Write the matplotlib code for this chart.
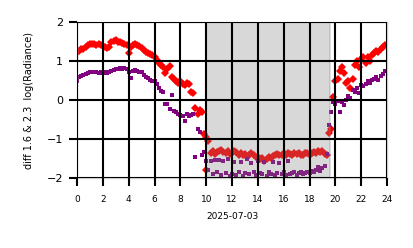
import numpy as np
import matplotlib
matplotlib.use("Agg")
import matplotlib.pyplot as plt

# hours (10-minute steps)
hours = np.arange(144) / 6.0

red_vals = [
    1.22, 1.27, 1.30, 1.32, 1.36, 1.40,
    1.43, 1.45, 1.44, 1.42, 1.44, 1.40,
    1.38, 1.35, 1.33, 1.36, 1.48, 1.52,
    1.53, 1.50, 1.49, 1.47, 1.45, 1.40,
    1.20, 1.35, 1.42, 1.45, 1.40, 1.38,
    1.33, 1.28, 1.24, 1.20, 1.18, 1.15,
    1.10, 1.02, 0.95, 0.90, 0.85, 0.70,
    0.80, 0.88, 0.60, 0.55, 0.48, 0.45,
    0.50, 0.42, 0.38, 0.45, 0.40, 0.20,
    0.18, -0.20, -0.35, -0.25, -0.30, -0.88,
    -0.95, -1.05, -1.35, -1.30, -1.38, -1.32,
    -1.30, -1.28, -1.33, -1.35, -1.30, -1.38,
    -1.36, -1.30, -1.32, -1.40, -1.35, -1.42,
    -1.38, -1.45, -1.40, -1.36, -1.42, -1.47,
    -1.45, -1.50, -1.48, -1.55, -1.50, -1.45,
    -1.48, -1.44, -1.40, -1.38, -1.42, -1.40,
    -1.37, -1.42, -1.35, -1.38, -1.40, -1.36,
    -1.38, -1.35, -1.40, -1.42, -1.37, -1.35,
    -1.40, -1.36, -1.33, -1.35, -1.30, -1.32,
    -1.30, -1.38, -1.40, -0.85, -0.75, 0.08,
    0.50, 0.55, 0.75, 0.85, 0.70, 0.45,
    0.50, 0.30, 0.55, 0.90, 1.00, 0.85,
    1.05, 1.10, 0.95, 1.10, 1.00, 1.15,
    1.20, 1.25, 1.22, 1.30, 1.35, 1.40,
]

purple_vals = [
    0.50, 0.58, 0.62, 0.65, 0.68, 0.70,
    0.72, 0.72, 0.71, 0.72, 0.70, 0.72,
    0.70, 0.71, 0.70, 0.72, 0.75, 0.78,
    0.80, 0.80, 0.81, 0.79, 0.82, 0.80,
    0.72, 0.56, 0.74, 0.76, 0.75, 0.72,
    0.72, 0.65, 0.58, 0.56, 0.52, 0.50,
    0.48, 0.40, 0.30, 0.22, 0.20, -0.10,
    -0.10, -0.22, 0.13, -0.28, -0.30, -0.35,
    -0.38, -0.40, -0.54, -0.36, -0.40, -0.38,
    -0.36, -1.46, -0.74, -0.82, -1.40, -1.33,
    -1.56, -1.80, -1.56, -1.90, -1.54, -1.85,
    -1.54, -1.92, -1.55, -1.88, -1.52, -1.95,
    -1.90, -1.60, -1.92, -1.85, -1.58, -1.95,
    -1.88, -1.50, -1.90, -1.62, -1.85, -1.92,
    -1.55, -1.88, -1.90, -1.60, -1.95, -1.85,
    -1.90, -1.58, -1.92, -1.88, -1.62, -1.90,
    -1.85, -1.92, -1.55, -1.90, -1.88, -1.85,
    -1.92, -1.88, -1.85, -1.90, -1.87, -1.85,
    -1.88, -1.82, -1.85, -1.80, -1.72, -1.82,
    -1.75, -1.68, -1.39, -0.65, -0.30, -0.05,
    -0.10, -0.02, -0.30, -0.05, -0.12, 0.00,
    0.10, 0.05, 0.25, 0.20, 0.30, 0.18,
    0.38, 0.35, 0.42, 0.50, 0.45, 0.52,
    0.55, 0.60, 0.52, 0.62, 0.68, 0.75,
]

red_extra_h = [10.0]
red_extra_v = [-1.80]

night_start, night_end = 10.0, 19.6
x_ticks = list(range(0, 25, 2))
y_ticks = [-2, -1, 0, 1, 2]

fig = plt.figure(figsize=(4.14, 2.48), dpi=100)
ax = fig.add_axes([0.186, 0.282, 0.749, 0.629])

ax.plot(hours, red_vals, linestyle="none", marker="D", markersize=3.7,
        color="red", markeredgewidth=0, zorder=1)
ax.plot(red_extra_h, red_extra_v, linestyle="none", marker="D", markersize=3.7,
        color="red", markeredgewidth=0, zorder=1)
ax.plot(hours, purple_vals, linestyle="none", marker="s", markersize=3.0,
        color="purple", markeredgewidth=0, zorder=1)

ax.axvspan(night_start, night_end, facecolor="gray", edgecolor="gray",
           alpha=0.3, linewidth=1.2, zorder=2)

ax.set_xlim(0, 24)
ax.set_ylim(-2, 2)
ax.set_xticks(x_ticks)
ax.set_yticks(y_ticks)
ax.set_axisbelow(False)
ax.grid(True, color="black", linewidth=1.5, zorder=3)
ax.tick_params(axis="both", direction="out", length=6, width=1.5, color="black")
ax.tick_params(axis="x", labelsize=6.5, pad=6)
ax.tick_params(axis="y", labelsize=8, pad=4)
for s in ax.spines.values():
    s.set_color("#cccccc")
    s.set_linewidth(1.0)

ax.set_xlabel("2025-07-03", fontsize=6.5, labelpad=6)
ax.set_ylabel("diff 1.6 & 2.3  log(Radiance)", fontsize=7, labelpad=9)

fig.savefig("out.png", dpi=100)
